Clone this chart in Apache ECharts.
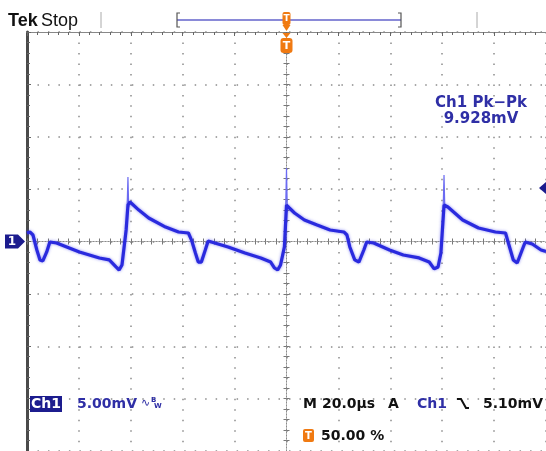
<!DOCTYPE html>
<html>
<head>
<meta charset="utf-8">
<script src="https://cdn.jsdelivr.net/npm/echarts@6/dist/echarts.min.js"></script>
<style>
html, body { margin: 0; width: 100%; height: 100%; background: #fff; }
#scope { width: 546px; height: 451px; }
</style>
</head>
<body>
<div id="scope"></div>
<script>
// 20 us/div horizontally, 5 mV/div vertically, trigger at t = 0
var traceTime = [-100, -98.9, -97.7, -96.2, -95.0, -93.9, -92.4, -91.2, -88.6, -79.8, -72.1, -68.3, -65.7, -64.5, -63.4, -61.8, -61.1,
  -60.3, -56.9, -53.1, -46.6, -41.6, -37.8, -36.6, -35.1, -34.0, -32.8, -31.3, -30.2, -22.5, -16.0, -9.9, -6.1, -4.6, -3.4, -2.3, -0.8, 0,
  1.1, 3.1, 6.9, 11.8, 16.8, 22.1, 23.3, 24.4, 26.3, 27.9, 29.8, 30.9, 33.6, 39.7, 45.0, 51.1, 55.0, 56.9, 58.4, 59.5, 60.7,
  62.2, 67.9, 74.0, 80.5, 84.4, 85.5, 87.4, 88.9, 90.8, 92.0, 94.7, 98.1, 100];
var traceMv = [0.81, 0.91, 0.62, -0.81, -1.76, -1.86, -1.00, -0.05, -0.14, -1.00, -1.57, -1.76, -2.43, -2.72, -2.24, 1.10, 3.48,
  3.77, 3.00, 2.24, 1.38, 0.91, 0.81, 0.14, -1.10, -1.96, -1.96, -0.81, 0.05, -0.52, -1.10, -1.57, -1.96, -2.53, -2.72, -2.24, -0.52, 3.48,
  3.20, 2.72, 2.05, 1.57, 1.10, 0.91, 0.62, -0.52, -1.76, -1.96, -0.81, -0.05, -0.14, -0.81, -1.29, -1.57, -1.96, -2.62, -2.43, -1.10, 3.48,
  3.29, 2.05, 1.29, 0.91, 0.81, -0.14, -1.76, -2.05, -0.81, -0.05, -0.24, -0.81, -0.95];

// narrow switching spikes riding on the trace
var spikeTime = [-61.1, 0, 60.7];
var spikeTop = [6.15, 7.01, 6.34];
var spikeBase = [3.48, 3.48, 3.48];

var triggerLevel = 5.10;   // mV
var groundLevel = 0;       // mV

var readPkLabel = 'Ch1 Pk\u2212Pk';
var readPkValue = '9.928mV';
var chScale = '5.00mV';
var timeBase = '20.0\u00b5s';
var trigLevelText = '5.10mV';
var trigPos = '50.00 %';

var blue = '#2a2ade';
var navy = '#1c1c8e';
var textBlue = '#2f2fa6';
var orange = '#f07a12';
var dot = '#8c8c8c';

var myChart = echarts.init(document.getElementById('scope'), null, { renderer: 'canvas' });

var gridBox = { left: 27, top: 32, width: 524, height: 419 };

var traceData = traceTime.map(function (t, i) { return [t, traceMv[i]]; });

var spikeSeries = spikeTime.map(function (t, i) {
  return {
    type: 'line', xAxisIndex: 0, yAxisIndex: 0, showSymbol: false, silent: true,
    data: [[t - 0.3, spikeBase[i]], [t, spikeTop[i]], [t + 0.3, spikeBase[i] - 0.2]],
    lineStyle: { color: '#6b6bf2', width: 1.2 }, z: 4
  };
});

var hidden = { show: false };

option = {
  animation: false,
  backgroundColor: '#fff',
  grid: [
    Object.assign({}, gridBox),
    Object.assign({}, gridBox)
  ],
  xAxis: [
    { // centre horizontal line, ticks down
      gridIndex: 0, type: 'value', min: -100, max: 100, interval: 20, position: 'bottom',
      axisLine: { onZero: true, lineStyle: { color: '#8a8a8a', width: 1, type: [1, 2] } },
      axisTick: { show: true, length: 3, lineStyle: { color: '#777' } },
      minorTick: { show: true, splitNumber: 5, length: 3, lineStyle: { color: '#777' } },
      axisLabel: hidden,
      splitLine: { show: true, lineStyle: { color: dot, width: 1.5, type: [1.5, 8.98] } }
    },
    { // top border of graticule
      gridIndex: 0, type: 'value', min: -100, max: 100, interval: 20, position: 'top',
      axisLine: { onZero: false, lineStyle: { color: '#888', width: 1 } },
      axisTick: { show: true, inside: true, length: 4, lineStyle: { color: '#666' } },
      minorTick: { show: true, splitNumber: 5, length: 3, lineStyle: { color: '#666' } },
      axisLabel: hidden, splitLine: hidden
    },
    { // centre horizontal line, ticks up
      gridIndex: 1, type: 'value', min: -100, max: 100, interval: 20, position: 'top',
      axisLine: { onZero: true, lineStyle: { color: '#8a8a8a', width: 1, type: [1, 2] } },
      axisTick: { show: true, length: 3, lineStyle: { color: '#777' } },
      minorTick: { show: true, splitNumber: 5, length: 3, lineStyle: { color: '#777' } },
      axisLabel: hidden, splitLine: hidden
    }
  ],
  yAxis: [
    { // centre vertical line, ticks left
      gridIndex: 0, type: 'value', min: -20, max: 20, interval: 5, position: 'left',
      axisLine: { onZero: true, lineStyle: { color: '#8a8a8a', width: 1, type: [1, 2] } },
      axisTick: { show: true, length: 3, lineStyle: { color: '#777' } },
      minorTick: { show: true, splitNumber: 5, length: 3, lineStyle: { color: '#777' } },
      axisLabel: hidden,
      splitLine: { show: true, lineStyle: { color: dot, width: 1.5, type: [1.5, 8.98] } }
    },
    { // centre vertical line, ticks right
      gridIndex: 1, type: 'value', min: -20, max: 20, interval: 5, position: 'right',
      axisLine: { onZero: true, lineStyle: { color: '#8a8a8a', width: 1, type: [1, 2] } },
      axisTick: { show: true, length: 3, lineStyle: { color: '#777' } },
      minorTick: { show: true, splitNumber: 5, length: 3, lineStyle: { color: '#777' } },
      axisLabel: hidden, splitLine: hidden
    },
    { // left border of graticule
      gridIndex: 1, type: 'value', min: -20, max: 20, interval: 5, position: 'left',
      axisLine: { onZero: false, lineStyle: { color: '#4a4a4a', width: 3 } },
      axisTick: { show: true, inside: true, length: 4, lineStyle: { color: '#666' } },
      minorTick: { show: true, splitNumber: 5, length: 3, lineStyle: { color: '#666' } },
      axisLabel: hidden, splitLine: hidden
    }
  ],
  series: [
    {
      name: 'Ch1', type: 'line', xAxisIndex: 0, yAxisIndex: 0,
      data: traceData, showSymbol: false, silent: true, z: 5,
      lineStyle: { color: blue, width: 3.2, shadowBlur: 3, shadowColor: 'rgba(60,60,235,0.6)' }
    }
  ].concat(spikeSeries)
};

myChart.setOption(option);

// markers tied to the data coordinates
var trig = myChart.convertToPixel({ gridIndex: 0 }, [0, triggerLevel]);
var gnd = myChart.convertToPixel({ gridIndex: 0 }, [0, groundLevel]);
var tx = trig[0];
var gy = gnd[1];
var ty = trig[1];

// text placed by its baseline (converted to a middle anchor)
function txt(x, base, s, size, weight, family, fill, align) {
  return { type: 'text', x: x, y: base - 0.34 * size, z: 30,
    style: { text: s, font: weight + ' ' + size + 'px ' + family, fill: fill,
      textAlign: align || 'left', textVerticalAlign: 'middle' } };
}

var dv = '"DejaVu Sans"';
var lib = '"Liberation Sans"';

myChart.setOption({
  graphic: [
    // header
    txt(8, 27, 'Tek', 18, 'bold', lib, '#111'),
    txt(41, 27, 'Stop', 18, 'normal', lib, '#111'),
    { type: 'line', shape: { x1: 101, y1: 12, x2: 101, y2: 28 }, style: { stroke: '#aaa', lineWidth: 1 } },
    { type: 'line', shape: { x1: 477, y1: 12, x2: 477, y2: 28 }, style: { stroke: '#aaa', lineWidth: 1 } },
    { type: 'line', shape: { x1: 177, y1: 20, x2: 401, y2: 20 }, style: { stroke: '#8a8ad8', lineWidth: 2 } },
    { type: 'polyline', shape: { points: [[180, 13], [177, 13], [177, 27], [180, 27]] }, style: { stroke: '#555', lineWidth: 1.2, fill: null } },
    { type: 'polyline', shape: { points: [[398, 13], [401, 13], [401, 27], [398, 27]] }, style: { stroke: '#555', lineWidth: 1.2, fill: null } },
    { type: 'rect', z: 21, shape: { x: tx - 4, y: 12, width: 8, height: 13, r: 2 }, style: { fill: orange } },
    txt(tx, 22, 'T', 9, 'bold', dv, '#fff', 'center'),
    { type: 'polygon', z: 21, shape: { points: [[tx - 4, 25], [tx + 4, 25], [tx, 31]] }, style: { fill: orange } },
    // trigger position marker
    { type: 'polygon', z: 21, shape: { points: [[tx - 4, 33], [tx + 4, 33], [tx, 38]] }, style: { fill: orange } },
    { type: 'rect', z: 21, shape: { x: tx - 6, y: 38, width: 12, height: 15, r: 3 }, style: { fill: orange } },
    txt(tx, 50, 'T', 11, 'bold', dv, '#fff', 'center'),
    // ground marker
    { type: 'polygon', z: 21, shape: { points: [[5, gy - 7], [18, gy - 7], [25, gy], [18, gy + 7], [5, gy + 7]] }, style: { fill: navy } },
    txt(12, gy + 4.5, '1', 12, 'bold', dv, '#fff', 'center'),
    // trigger level arrow
    { type: 'polygon', z: 21, shape: { points: [[546, ty - 6], [546, ty + 6], [539, ty]] }, style: { fill: navy } },
    // measurement readout
    txt(481, 108, readPkLabel, 15, 'bold', dv, textBlue, 'center'),
    txt(481, 124, readPkValue, 15, 'bold', dv, textBlue, 'center'),
    // bottom readouts
    { type: 'rect', z: 21, shape: { x: 30, y: 396, width: 32, height: 16 }, style: { fill: navy } },
    txt(46, 409, 'Ch1', 14, 'bold', dv, '#fff', 'center'),
    txt(77, 409, chScale, 14, 'bold', dv, textBlue),
    txt(141, 407, '\u223f', 11, 'normal', dv, textBlue),
    txt(151, 403, 'B', 7, 'bold', dv, textBlue),
    txt(154, 409, 'W', 7, 'bold', dv, textBlue),
    txt(303, 409, 'M', 14, 'bold', dv, '#111'),
    txt(322, 409, timeBase, 14, 'bold', dv, '#111'),
    txt(388, 409, 'A', 14, 'bold', dv, '#111'),
    txt(417, 409, 'Ch1', 14, 'bold', dv, textBlue),
    { type: 'polyline', z: 20, shape: { points: [[457, 399], [461, 399], [466, 408], [469, 408]] }, style: { stroke: '#111', lineWidth: 2, fill: null } },
    txt(483, 409, trigLevelText, 14, 'bold', dv, '#111'),
    { type: 'rect', z: 21, shape: { x: 303, y: 429, width: 11, height: 13, r: 2 }, style: { fill: orange } },
    txt(308.5, 440, 'T', 10, 'bold', dv, '#fff', 'center'),
    txt(321, 441, trigPos, 14, 'bold', dv, '#111')
  ]
});
</script>
</body>
</html>
